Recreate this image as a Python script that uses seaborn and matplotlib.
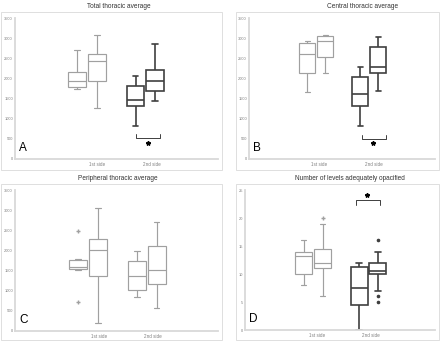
import numpy as np
import pandas as pd
import matplotlib
matplotlib.use("Agg")
import matplotlib.pyplot as plt
from matplotlib.patches import Rectangle
import seaborn as sns

sns.set_style("white")
plt.rcParams['font.family'] = ['Liberation Sans', 'DejaVu Sans']

sides = ["1st side", "2nd side"]
groups = ["g1", "g2"]

# Panel A - Total thoracic average
a_1st_g1 = [1733, 1783, 1932, 2164, 2711]
a_1st_g2 = [1269, 1940, 2430, 2604, 3076]
a_2nd_g1 = [829, 1318, 1468, 1824, 2056]
a_2nd_g2 = [1443, 1683, 1924, 2214, 2852]

# Panel B - Central thoracic average
b_1st_g1 = [1675, 2145, 2607, 2880, 2929]
b_1st_g2 = [2137, 2533, 2937, 3053, 3069]
b_2nd_g1 = [825, 1304, 1617, 2038, 2285]
b_2nd_g2 = [1700, 2129, 2294, 2789, 3028]

# Panel C - Peripheral thoracic average
c_1st_g1 = [721, 1510, 1520, 1545, 1570, 1700, 1750, 1783, 2479]
c_1st_g2 = [199, 1368, 2015, 2289, 3060]
c_2nd_g1 = [829, 1003, 1360, 1733, 1982]
c_2nd_g2 = [556, 1153, 1501, 2114, 2703]

# Panel D - Number of levels adequately opacified
d_1st_g1 = [8, 10, 13.3, 13.9, 16]
d_1st_g2 = [6, 10, 11, 11.5, 12, 13, 14.5, 19, 20]
d_2nd_g1 = [0, 4.4, 7.5, 11.2, 11.9]
d_2nd_g2 = [5, 6, 7, 10, 10.2, 10.4, 10.5, 11, 12, 12.05, 13, 14, 16]

titles = ["Total thoracic average", "Central thoracic average",
          "Peripheral thoracic average", "Number of levels adequately opacified"]
letters = ["A", "B", "C", "D"]
y_max = [3500, 3500, 3500, 25]
y_step = [500, 500, 500, 5]

# significance brackets: (x_left, x_right, y_line, y_tip, x_star, y_star) in data units
brackets = {
    0: (0.83, 1.25, 514, 614, 1.04, 406),
    1: (0.86, 1.31, 503, 602, 1.075, 388),
    3: (0.77, 1.20, 23.2, 22.4, 0.98, 24.1),
}

panel_data = [
    [a_1st_g1, a_1st_g2, a_2nd_g1, a_2nd_g2],
    [b_1st_g1, b_1st_g2, b_2nd_g1, b_2nd_g2],
    [c_1st_g1, c_1st_g2, c_2nd_g1, c_2nd_g2],
    [d_1st_g1, d_1st_g2, d_2nd_g1, d_2nd_g2],
]

W, H = 440, 342
fig = plt.figure(figsize=(W / 100, H / 100), dpi=100)

# layout in pixels
ax_px = [(15, 218, 18, 159), (249, 435, 18, 159), (15, 218, 190, 330.5), (245, 435, 190, 330)]
frame_px = [(1, 222, 12, 170), (236, 439, 12, 170), (1, 222, 184, 340), (236, 439, 184, 340)]
title_px = [(119, 7), (363, 7), (118, 178), (350, 178)]
xlims = [(-1.23, 2.24), (-1.27, 2.24), (-1.25, 2.22), (-1.23, 2.2)]
xticks = [(0.17, 1.11), (0.05, 1.08), (0.19, 1.10), (0.07, 1.05)]

LIGHT = "#a0a0a0"
DARK = "#3f3f3f"
AXC = "#d9d9d9"

for i in range(4):
    fx0, fx1, fy0, fy1 = frame_px[i]
    fig.patches.append(Rectangle((fx0 / W, 1 - fy1 / H), (fx1 - fx0) / W, (fy1 - fy0) / H,
                                 transform=fig.transFigure, fill=False,
                                 edgecolor="#dedede", linewidth=0.7))
    tx, ty = title_px[i]
    fig.text(tx / W, 1 - ty / H, titles[i], ha="center", va="center", fontsize=4.7, color="#333333")

    l, r, t, b = ax_px[i]
    ax = fig.add_axes([l / W, 1 - b / H, (r - l) / W, (b - t) / H])
    vals = panel_data[i]
    rows = []
    for k, (s, g) in enumerate([(sides[0], groups[0]), (sides[0], groups[1]),
                                (sides[1], groups[0]), (sides[1], groups[1])]):
        for v in vals[k]:
            rows.append({"side": s, "group": g, "value": v})
    df = pd.DataFrame(rows)
    for s in sides:
        lc = LIGHT if (s == sides[0] or i == 2) else DARK
        lw = 0.85 if lc == LIGHT else 1.2
        mk = "+" if lc == LIGHT else "o"
        sns.boxplot(data=df[df["side"] == s], x="side", y="value", hue="group",
                    order=sides, hue_order=groups, palette=["white", "white"],
                    linecolor=lc, linewidth=lw, width=0.68, gap=0.1, whis=1.5,
                    legend=False, ax=ax, capwidths=0.1,
                    flierprops=dict(marker=mk, markersize=2.2 if mk == "+" else 1.6,
                                    markerfacecolor=lc, markeredgecolor=lc))
    ax.set_xlim(*xlims[i])
    ax.set_ylim(0, y_max[i])
    ax.set_yticks(np.arange(0, y_max[i] + 0.1, y_step[i]))
    ax.set_yticklabels([f"{int(v)}" for v in np.arange(0, y_max[i] + 0.1, y_step[i])])
    ax.set_xticks(list(xticks[i]))
    ax.set_xticklabels(sides)
    ax.set_xlabel("")
    ax.set_ylabel("")
    ax.tick_params(axis="both", length=0, labelsize=2.9, labelcolor="#808080", pad=1.5)
    ax.tick_params(axis="x", pad=2.2, labelsize=3.3)
    for sp in ["top", "right"]:
        ax.spines[sp].set_visible(False)
    for sp in ["left", "bottom"]:
        ax.spines[sp].set_color(AXC)
        ax.spines[sp].set_linewidth(1.3)
    ax.set_facecolor("none")
    ax.text(0.02, 0.035, letters[i], transform=ax.transAxes, fontsize=8.5, color="black",
            ha="left", va="bottom")
    if i in brackets:
        xl, xr, yl, yt, xs, ys = brackets[i]
        ax.plot([xl, xl, xr, xr], [yt, yl, yl, yt], color=DARK, linewidth=0.7)
        ax.plot([xs], [ys], marker="*", markersize=3.2, color="black", linestyle="none")

fig.savefig("out.png", dpi=100)
